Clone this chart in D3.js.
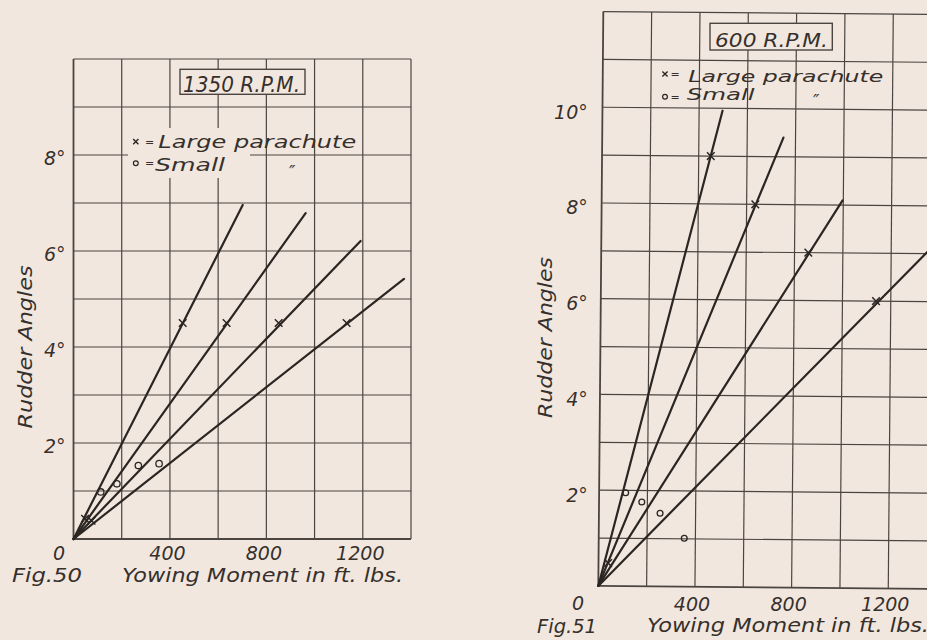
<!DOCTYPE html>
<html>
<head>
<meta charset="utf-8">
<script src="https://cdn.jsdelivr.net/npm/d3@7/dist/d3.min.js"></script>
<style>
  html, body { margin: 0; padding: 0; background: #f2e7de; }
  svg { display: block; }
  text {
    font-family: "DejaVu Sans", "Liberation Sans", sans-serif;
    font-style: italic;
    font-weight: 200;
    fill: #36302c;
  }
</style>
</head>
<body>
<svg id="chart" width="927" height="640"></svg>
<script>
// ---------------- data ----------------
// Yawing moment (ft. lbs.) tick labels and rudder-angle tick labels (degrees)
const xTickValues = [400, 800, 1200];
const fig50YTicks = [2, 4, 6, 8];
const fig51YTicks = [2, 4, 6, 8, 10];

// Fig. 50, 1350 R.P.M. : faired lines run from the origin to these ends
const fig50LineEndX = [702, 963, 1191, 1371];
const fig50LineEndY = [6.96, 6.79, 6.21, 5.42];
// large parachute (x) and small parachute (o) test points
const fig50LargeX = [453, 635, 851, 1133, 48, 75];
const fig50LargeY = [4.5, 4.5, 4.5, 4.5, 0.42, 0.38];
const fig50SmallX = [113, 180, 269, 355];
const fig50SmallY = [0.98, 1.15, 1.53, 1.57];

// Fig. 51, 600 R.P.M.
const fig51LineEndX = [497, 750, 997, 1400];
const fig51LineEndY = [9.95, 9.4, 8.1, 7.3];
const fig51LargeX = [450, 636, 857, 1139, 40];
const fig51LargeY = [9.0, 8.0, 7.0, 6.0, 0.48];
const fig51SmallX = [110, 177, 253, 354];
const fig51SmallY = [1.95, 1.76, 1.53, 1.01];

// ---------------- drawing ----------------
const PAPER = "#f2e7de", INK = "#2b2623", GRID = "#4b4541";
const svg = d3.select("#chart");
svg.append("rect").attr("width", 927).attr("height", 640).attr("fill", PAPER);

function addText(g, str, a) {
  const t = g.append("text").text(str)
    .attr("x", a.x).attr("y", a.y)
    .style("font-size", (a.size || 19) + "px")
    .attr("text-anchor", a.anchor || "start");
  if (a.len) t.attr("textLength", a.len).attr("lengthAdjust", "spacingAndGlyphs");
  if (a.rotate) t.attr("transform", `rotate(${a.rotate} ${a.x} ${a.y})`);
  return t;
}

function drawPanel(o) {
  const x = d3.scaleLinear().domain([0, o.xMax]).range([o.x0, o.x1]);
  const y = d3.scaleLinear().domain([0, o.yMax]).range([o.y0, o.y1]);

  const plot = svg.append("g")
    .attr("transform", o.tilt ? `rotate(${o.tilt} ${(o.x0 + o.x1) / 2} ${(o.y0 + o.y1) / 2})` : null);

  // squared grid, one cell per 200 ft. lbs. and per degree
  plot.append("g").selectAll("line")
    .data(d3.range(0, o.xMax + 1, 200)).join("line")
    .attr("x1", d => x(d)).attr("x2", d => x(d))
    .attr("y1", y(0)).attr("y2", y(o.yMax))
    .attr("stroke", GRID).attr("stroke-width", d => d === 0 ? 1.8 : 1.2);
  plot.append("g").selectAll("line")
    .data(d3.range(0, o.yMax + 1, 1)).join("line")
    .attr("x1", x(0)).attr("x2", x(o.xMax))
    .attr("y1", d => y(d)).attr("y2", d => y(d))
    .attr("stroke", GRID).attr("stroke-width", d => d === 0 ? 1.8 : 1.2);

  // clear patch behind the key lettering
  if (o.keyPatch) {
    const p = o.keyPatch;
    plot.append("rect").attr("x", p[0]).attr("y", p[1]).attr("width", p[2]).attr("height", p[3]).attr("fill", PAPER);
  }

  // faired lines through the origin
  const lines = o.endX.map((ex, i) => [[0, 0], [ex, o.endY[i]]]);
  plot.append("g").selectAll("path").data(lines).join("path")
    .attr("d", d3.line().x(d => x(d[0])).y(d => y(d[1])))
    .attr("fill", "none").attr("stroke", INK).attr("stroke-width", 2.2).attr("stroke-linecap", "round");

  // large parachute points (x)
  plot.append("g").selectAll("path").data(d3.zip(o.largeX, o.largeY)).join("path")
    .attr("d", d => {
      const cx = x(d[0]), cy = y(d[1]), s = 3.8;
      return `M${cx - s},${cy - s}L${cx + s},${cy + s}M${cx - s},${cy + s}L${cx + s},${cy - s}`;
    })
    .attr("stroke", INK).attr("stroke-width", 1.5);

  // small parachute points (o)
  plot.append("g").selectAll("circle").data(d3.zip(o.smallX, o.smallY)).join("circle")
    .attr("cx", d => x(d[0])).attr("cy", d => y(d[1])).attr("r", o.ringR)
    .attr("fill", "none").attr("stroke", INK).attr("stroke-width", 1.3);

  // ---- lettering (not tilted) ----
  const lab = svg.append("g");

  const ax = lab.append("g").attr("transform", `translate(0,${o.y0})`)
    .call(d3.axisBottom(x).tickValues(xTickValues).tickSize(0).tickPadding(o.xPad).tickFormat(d3.format("d")));
  ax.select(".domain").remove();
  ax.selectAll("text").attr("dx", o.xDx).style("font-size", "19px");

  const ay = lab.append("g").attr("transform", `translate(${o.x0},0)`)
    .call(d3.axisLeft(y).tickValues(o.yTicks).tickSize(0).tickPadding(o.yPad).tickFormat(d => d + "°"));
  ay.select(".domain").remove();
  ay.selectAll("text").attr("dy", "0.5em").style("font-size", "19px");

  addText(lab, "0", { x: o.zero[0], y: o.zero[1], anchor: "middle" });
  addText(lab, o.fig, { x: o.figPos[0], y: o.figPos[1], len: o.figPos[2] });
  addText(lab, "Yowing Moment in ft. lbs.", { x: o.xTitle[0], y: o.xTitle[1], len: o.xTitle[2] });
  addText(lab, "Rudder Angles", { x: o.yTitle[0], y: o.yTitle[1], len: o.yTitle[2], anchor: "middle", rotate: -90 });

  // title box
  const b = o.box;
  lab.append("rect").attr("x", b[0]).attr("y", b[1]).attr("width", b[2]).attr("height", b[3])
    .attr("fill", PAPER).attr("stroke", GRID).attr("stroke-width", 1.4);
  addText(lab, o.title, { x: o.titlePos[0], y: o.titlePos[1], len: o.titlePos[2], size: o.titleSize });

  // key
  const k = o.key;
  const kx = k.sym, cs = 2.6;
  lab.append("path")
    .attr("d", `M${kx - cs},${k.y1 - cs}L${kx + cs},${k.y1 + cs}M${kx - cs},${k.y1 + cs}L${kx + cs},${k.y1 - cs}`)
    .attr("stroke", INK).attr("stroke-width", 1.4);
  lab.append("circle").attr("cx", kx).attr("cy", k.y2).attr("r", 2.4)
    .attr("fill", "none").attr("stroke", INK).attr("stroke-width", 1.2);
  addText(lab, "=", { x: k.eq, y: k.y1 + 4, size: 11 });
  addText(lab, "=", { x: k.eq, y: k.y2 + 4, size: 11 });
  addText(lab, "Large parachute", { x: k.text, y: k.b1, len: k.w1, size: k.size });
  addText(lab, "Small", { x: k.text2, y: k.b2, len: k.w2, size: k.size });
  addText(lab, "″", { x: k.ditto, y: k.b2 + 7, size: 17 });
}

drawPanel({
  xMax: 1400, yMax: 10, x0: 73.5, x1: 411, y0: 539, y1: 59, tilt: 0,
  endX: fig50LineEndX, endY: fig50LineEndY,
  largeX: fig50LargeX, largeY: fig50LargeY,
  smallX: fig50SmallX, smallY: fig50SmallY, ringR: 3.2,
  yTicks: fig50YTicks, xPad: 8, xDx: -3, yPad: 8,
  keyPatch: [128, 128, 122, 50],
  zero: [59, 560], fig: "Fig.50", figPos: [12, 582, 70],
  xTitle: [122, 582, 281], yTitle: [31.5, 347, 163],
  box: [180, 69.3, 125, 25], title: "1350 R.P.M.", titlePos: [183, 91.5, 117], titleSize: 22,
  key: { sym: 135.8, y1: 141.7, y2: 163.3, eq: 145, text: 158.3, b1: 148.3, w1: 198,
         text2: 155, b2: 170.7, w2: 70, ditto: 289, size: 18.5 }
});

drawPanel({
  xMax: 1400, yMax: 12, x0: 600.8, x1: 939.1, y0: 587.4, y1: 13.0, tilt: 0.5,
  endX: fig51LineEndX, endY: fig51LineEndY,
  largeX: fig51LargeX, largeY: fig51LargeY,
  smallX: fig51SmallX, smallY: fig51SmallY, ringR: 2.9,
  yTicks: fig51YTicks, xPad: 10, xDx: -6, yPad: 13,
  keyPatch: null,
  zero: [578, 610], fig: "Fig.51", figPos: [537, 633, 60],
  xTitle: [647, 632, 282], yTitle: [552, 337.5, 161],
  box: [710, 23.3, 122.3, 26.7], title: "600 R.P.M.", titlePos: [715, 46.7, 113], titleSize: 19,
  key: { sym: 665, y1: 74, y2: 96.7, eq: 670.5, text: 688.3, b1: 81.7, w1: 195,
         text2: 686.7, b2: 100, w2: 68, ditto: 813, size: 15.5 }
});
</script>
</body>
</html>
